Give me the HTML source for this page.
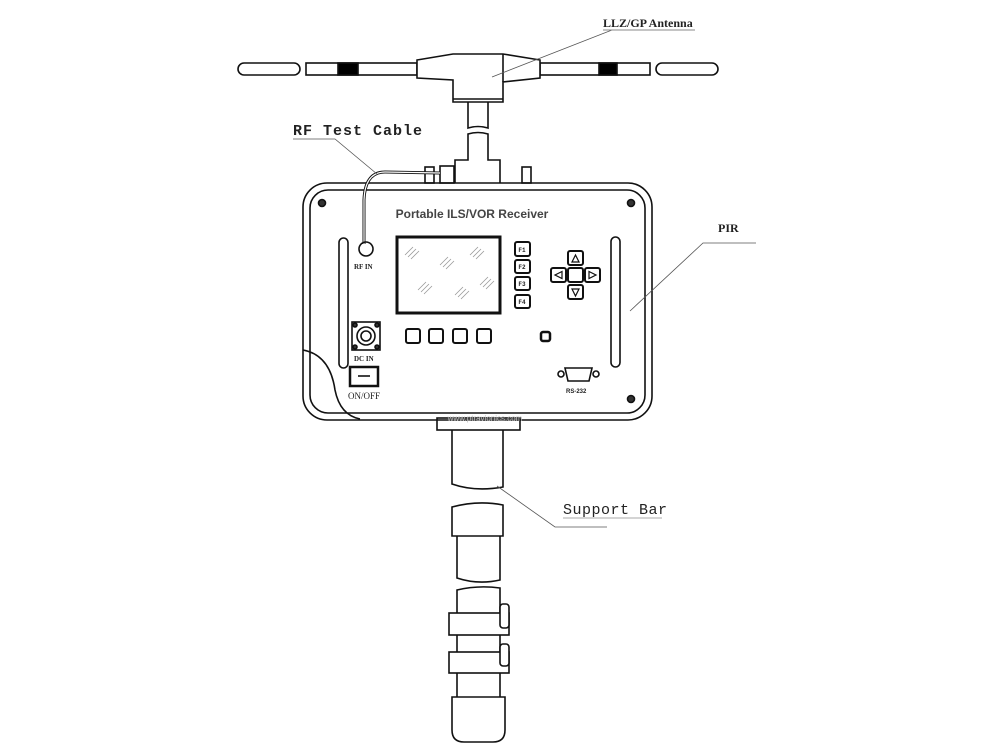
<!DOCTYPE html>
<html><head><meta charset="utf-8"><style>
html,body{margin:0;padding:0;background:#fff;}
svg{display:block}
text{font-family:"Liberation Mono","DejaVu Sans Mono",monospace;fill:#222}
</style></head><body>
<svg width="1000" height="749" viewBox="0 0 1000 749" xmlns="http://www.w3.org/2000/svg">
<g fill="none" stroke="#111" stroke-width="1.6">
<!-- antenna rods -->
<rect x="238" y="63" width="62" height="12" rx="6"/>
<rect x="306" y="63" width="111" height="12"/>
<rect x="540" y="63" width="110" height="12"/>
<rect x="656" y="63" width="62" height="12" rx="6"/>
<rect x="338" y="63" width="20" height="12" fill="#000"/>
<rect x="599" y="63" width="18" height="12" fill="#000"/>
<!-- hub -->
<path d="M417 60 L453 54 L503 54 L540 60 L540 78 L503 82 L503 102 L453 102 L453 80 L417 78 Z" fill="#fff"/>
<line x1="503" y1="54" x2="503" y2="82"/>
<line x1="453" y1="99" x2="503" y2="99"/>
<!-- mast -->
<path d="M468 102 L468 128 Q478 125 488 128 L488 102"/>
<path d="M468 156 L468 134 Q478 131 488 134 L488 156"/>
<path d="M468 156 L468 160 L455 160 L455 183 M488 156 L488 160 L500 160 L500 183"/>
<!-- top connectors -->
<rect x="425" y="167" width="9" height="16"/>
<rect x="440" y="166" width="14" height="17"/>
<rect x="522" y="167" width="9" height="16"/>
<!-- box -->
<rect x="303" y="183" width="349" height="237" rx="24"/>
<rect x="310" y="190" width="335" height="223" rx="18"/>
<path d="M303 350 Q330 355 335 390 Q340 415 360 419"/>
<!-- screws -->
<circle cx="322" cy="203" r="3.5" fill="#333"/>
<circle cx="631" cy="203" r="3.5" fill="#333"/>
<circle cx="631" cy="399" r="3.5" fill="#333"/>
<!-- slots -->
<rect x="339" y="238" width="9" height="130" rx="4.5"/>
<rect x="611" y="237" width="9" height="130" rx="4.5"/>
<!-- cable -->
<path d="M440 173 L385 172 Q365 172 364 200 L364 244" stroke-width="3"/>
<path d="M440 173 L385 172 Q365 172 364 200 L364 244" stroke="#fff" stroke-width="1.2"/>
<circle cx="366" cy="249" r="7"/>
<!-- screen -->
<rect x="397" y="237" width="103" height="76" stroke-width="3"/>
<g stroke="#999" stroke-width="0.8">
<path d="M405 255 l8 -8 M408 257 l8 -8 M411 259 l8 -8"/>
<path d="M440 265 l8 -8 M443 267 l8 -8 M446 269 l8 -8"/>
<path d="M470 255 l8 -8 M473 257 l8 -8 M476 259 l8 -8"/>
<path d="M418 290 l8 -8 M421 292 l8 -8 M424 294 l8 -8"/>
<path d="M455 295 l8 -8 M458 297 l8 -8 M461 299 l8 -8"/>
<path d="M480 285 l8 -8 M483 287 l8 -8 M486 289 l8 -8"/>
</g>
<!-- F buttons -->
<rect x="515" y="242" width="15" height="14" rx="2" stroke-width="2"/>
<rect x="515" y="260" width="15" height="13" rx="2" stroke-width="2"/>
<rect x="515" y="277" width="15" height="13" rx="2" stroke-width="2"/>
<rect x="515" y="295" width="15" height="13" rx="2" stroke-width="2"/>
<!-- dpad -->
<rect x="568" y="251" width="15" height="14" rx="2" stroke-width="2"/>
<rect x="568" y="268" width="15" height="14" rx="2" stroke-width="2"/>
<rect x="568" y="285" width="15" height="14" rx="2" stroke-width="2"/>
<rect x="551" y="268" width="15" height="14" rx="2" stroke-width="2"/>
<rect x="585" y="268" width="15" height="14" rx="2" stroke-width="2"/>
<path d="M572 262 L575.5 255 L579 262 Z M572 289 L575.5 296 L579 289 Z M562 271.5 L555 275 L562 278.5 Z M589 271.5 L596 275 L589 278.5 Z" stroke-width="1.2"/>
<!-- bottom buttons -->
<rect x="406" y="329" width="14" height="14" rx="2" stroke-width="2"/>
<rect x="429" y="329" width="14" height="14" rx="2" stroke-width="2"/>
<rect x="453" y="329" width="14" height="14" rx="2" stroke-width="2"/>
<rect x="477" y="329" width="14" height="14" rx="2" stroke-width="2"/>
<rect x="541" y="332" width="9" height="9" rx="2" stroke-width="2.5"/>
<!-- DC in -->
<rect x="352" y="322" width="28" height="28"/>
<circle cx="366" cy="336" r="9"/>
<circle cx="366" cy="336" r="5"/>
<circle cx="355" cy="325" r="2" fill="#333"/><circle cx="377" cy="325" r="2" fill="#333"/>
<circle cx="355" cy="347" r="2" fill="#333"/><circle cx="377" cy="347" r="2" fill="#333"/>
<!-- switch -->
<rect x="350" y="367" width="28" height="19" stroke-width="2.5"/>
<line x1="358" y1="376" x2="370" y2="376"/>
<!-- RS232 -->
<path d="M565 368 L592 368 L589 381 L568 381 Z"/>
<circle cx="561" cy="374" r="3"/><circle cx="596" cy="374" r="3"/>
<!-- collar & pole -->
<rect x="437" y="418" width="83" height="12"/>
<path d="M452 430 L452 484 Q475 492 503 487 L503 430"/>
<path d="M452 536 L452 507 Q478 500 503 505 L503 536 Z"/>
<path d="M457 536 L457 578 Q478 585 500 580 L500 536"/>
<path d="M457 697 L457 590 Q478 585 500 588 L500 697"/>
<rect x="449" y="613" width="60" height="22" fill="#fff"/>
<rect x="449" y="652" width="60" height="21" fill="#fff"/>
<rect x="500" y="604" width="9" height="24" rx="3" fill="#fff"/>
<rect x="500" y="644" width="9" height="22" rx="3" fill="#fff"/>
<path d="M452 697 L505 697 L505 730 Q505 742 493 742 L464 742 Q452 742 452 730 Z"/>
</g>
<!-- leaders -->
<g fill="none" stroke="#555" stroke-width="0.8">
<path d="M695 30 L612 30 L492 77"/>
<path d="M293 139 L335 139 L377 174"/>
<path d="M756 243 L703 243 L630 311"/>
<path d="M497 486 L555 527 L607 527"/>
</g>
<!-- labels -->
<text x="603" y="27" font-size="12" font-weight="bold" font-family="Liberation Serif,serif" style="font-family:'Liberation Serif',serif">LLZ/GP Antenna</text>
<line x1="603" y1="30" x2="695" y2="30" stroke="#888" stroke-width="1"/>
<text x="293" y="135" font-size="15" font-weight="bold" letter-spacing="1">RF Test Cable</text>
<text x="718" y="232" font-size="12" font-weight="bold" style="font-family:'Liberation Serif',serif">PIR</text>
<text x="563" y="514" font-size="15" letter-spacing="0.5">Support Bar</text>
<line x1="563" y1="518" x2="662" y2="518" stroke="#aaa" stroke-width="1"/>
<text x="472" y="218" font-size="12" font-weight="bold" text-anchor="middle" style="font-family:'Liberation Sans',sans-serif;fill:#444">Portable ILS/VOR Receiver</text>
<text x="354" y="269" font-size="7" font-weight="bold" style="font-family:'Liberation Serif',serif">RF  IN</text>
<text x="354" y="361" font-size="7" font-weight="bold" style="font-family:'Liberation Serif',serif">DC IN</text>
<text x="348" y="399" font-size="9" style="font-family:'Liberation Serif',serif">ON/OFF</text>
<text x="566" y="393" font-size="6" font-weight="bold" style="font-family:'Liberation Sans',sans-serif">RS-232</text>
<g font-size="6" font-weight="bold" text-anchor="middle" style="font-family:'Liberation Sans',sans-serif">
<text x="522" y="252">F1</text><text x="522" y="269">F2</text><text x="522" y="286">F3</text><text x="522" y="304">F4</text>
</g>
<text x="485" y="421" font-size="8" text-anchor="middle" style="fill:#bbb;font-family:'Liberation Sans',sans-serif">www.ptravionics.com</text>
</svg>
</body></html>
